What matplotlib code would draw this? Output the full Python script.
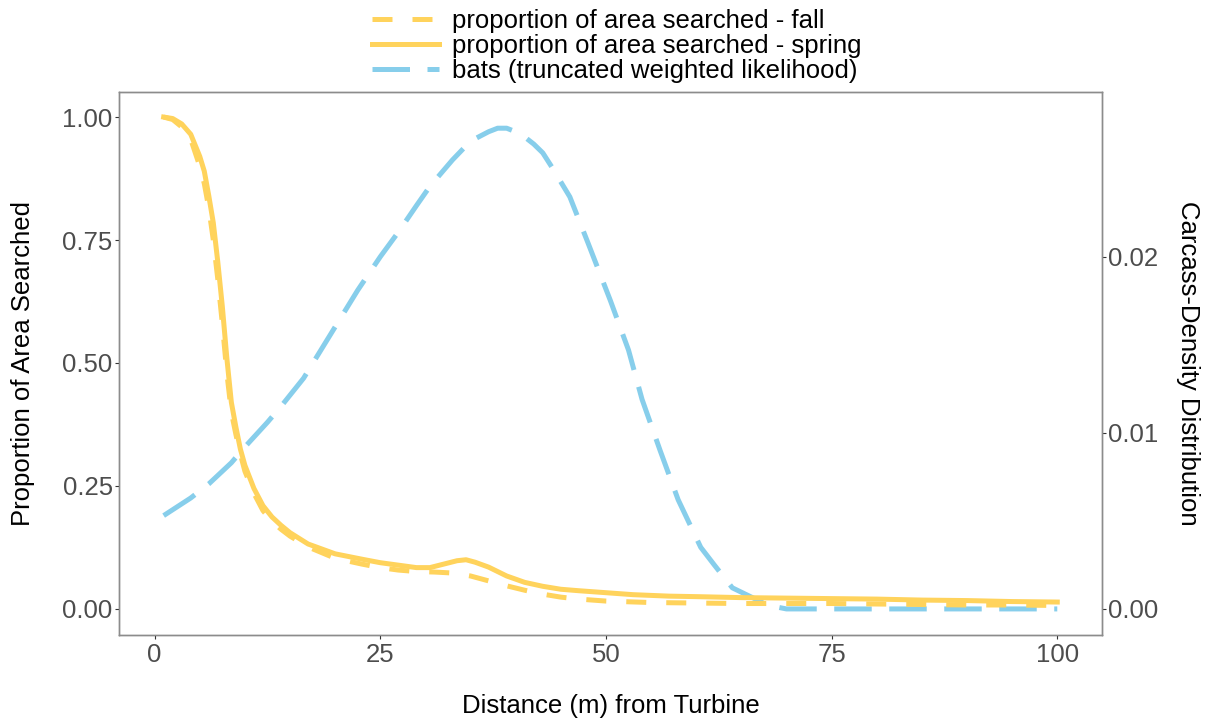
import numpy as np
import matplotlib
matplotlib.use("Agg")
import matplotlib.pyplot as plt

plt.rcParams['font.family'] = ['Liberation Sans', 'DejaVu Sans']

# distance (m) from turbine and proportion of area searched - spring
spring_x = [1, 2, 3, 4, 5, 5.5, 6, 6.5, 7, 7.5, 8, 8.5, 9, 9.5, 10, 11, 12, 13, 14, 15,
            17, 20, 23, 25, 27, 29, 30.5, 32, 33.5, 34.5, 35.5, 37, 39, 41, 43, 45, 47,
            50, 53, 57, 60, 65, 70, 75, 80, 85, 90, 95, 100]
spring_y = [1.0, 0.997, 0.986, 0.965, 0.92, 0.89, 0.84, 0.785, 0.705, 0.615, 0.51, 0.42,
            0.37, 0.325, 0.292, 0.245, 0.21, 0.187, 0.17, 0.155, 0.132, 0.112, 0.101,
            0.094, 0.089, 0.084, 0.084, 0.091, 0.098, 0.1, 0.095, 0.085, 0.067, 0.054,
            0.046, 0.04, 0.037, 0.033, 0.029, 0.026, 0.025, 0.023, 0.022, 0.021, 0.02,
            0.018, 0.017, 0.015, 0.014]

# proportion of area searched - fall
fall_x = [1, 2, 3, 4, 5, 5.5, 6, 6.5, 7, 7.5, 8, 8.5, 9, 9.5, 10, 11, 12, 13, 14, 15,
          17, 20, 23, 25, 27, 29, 31, 33, 35, 37, 39, 41, 43, 45, 47, 50, 55, 60, 65,
          70, 75, 80, 85, 90, 95, 100]
fall_y = [1.0, 0.995, 0.98, 0.955, 0.9, 0.865, 0.815, 0.75, 0.67, 0.58, 0.48, 0.4,
          0.355, 0.315, 0.28, 0.235, 0.2, 0.178, 0.162, 0.148, 0.126, 0.103, 0.091,
          0.084, 0.079, 0.076, 0.075, 0.073, 0.067, 0.057, 0.047, 0.038, 0.03, 0.024,
          0.02, 0.016, 0.013, 0.012, 0.011, 0.011, 0.011, 0.01, 0.009, 0.008, 0.008,
          0.007]

# bats carcass density (right axis)
bats_x = [1, 4, 6, 8.5, 10, 12.5, 14, 16.5, 19.5, 22.5, 25, 27, 29, 30.5, 32, 33, 34.5,
          35.5, 37, 38, 39, 40, 41, 42, 43, 44, 46, 48, 50.5, 52.5, 54, 56, 58, 60.5,
          62, 64, 66, 68, 70, 75, 80, 85, 90, 95, 100]
bats_y = [0.0053, 0.0063, 0.0071, 0.0083, 0.0092, 0.0106, 0.0115, 0.0131, 0.0156,
          0.0181, 0.02, 0.0214, 0.0229, 0.024, 0.0249, 0.0255, 0.0263, 0.0267, 0.0271,
          0.0273, 0.0273, 0.0271, 0.0268, 0.0264, 0.0259, 0.0251, 0.0234, 0.0208,
          0.0175, 0.0147, 0.0119, 0.009, 0.0062, 0.0035, 0.0025, 0.0012, 0.0007,
          0.0002, 0.0, 0.0, 0.0, 0.0, 0.0, 0.0, 0.0]

left_ticks = [0.0, 0.25, 0.5, 0.75, 1.0]
right_ticks = [0.0, 0.01, 0.02]
x_ticks = [0, 25, 50, 75, 100]

yellow = "#FFD35C"
blue = "#87CEEB"
grey_txt = "#4D4D4D"
scale = 35.8  # left units per right unit
fs = 18.5

fig = plt.figure(figsize=(12.14, 7.18), dpi=100)
ax = fig.add_axes([0.098, 0.1156, 0.8097, 0.7563])
ax2 = ax.twinx()

lw = 3.6
l_bats, = ax2.plot(bats_x, bats_y, color=blue, lw=lw, dashes=(7.5, 3.5), zorder=1)
l_fall, = ax.plot(fall_x, fall_y, color=yellow, lw=lw, dashes=(4, 4), zorder=2)
l_spring, = ax.plot(spring_x, spring_y, color=yellow, lw=lw, zorder=3)
ax.set_zorder(ax2.get_zorder() + 1)
ax.patch.set_visible(False)

ylo, yhi = -0.053, 1.051
ax.set_ylim(ylo, yhi)
ax2.set_ylim(ylo / scale, yhi / scale)
ax.set_xlim(-3.95, 104.95)

ax.set_yticks(left_ticks)
ax.set_yticklabels(["%.2f" % v for v in left_ticks])
ax2.set_yticks(right_ticks)
ax2.set_yticklabels(["%.2f" % v for v in right_ticks])
ax.set_xticks(x_ticks)

for a in (ax, ax2):
    a.tick_params(labelsize=fs, labelcolor=grey_txt, color="#333333", length=3,
                  width=0.8, pad=1.5)
    for s in a.spines.values():
        s.set_color("#8C8C8C")
        s.set_linewidth(1.0)
ax.tick_params(axis="x", pad=3)

ax.set_xlabel("Distance (m) from Turbine", fontsize=fs, labelpad=19)
ax.set_ylabel("Proportion of Area Searched", fontsize=fs, labelpad=20)
ax2.set_ylabel("Carcass-Density Distribution", fontsize=fs, rotation=270, labelpad=30)

fig.legend([l_fall, l_spring, l_bats],
           ["proportion of area searched - fall",
            "proportion of area searched - spring",
            "bats (truncated weighted likelihood)"],
           loc="upper center", bbox_to_anchor=(0.508, 1.02), frameon=False,
           fontsize=fs, handlelength=2.6, handletextpad=0.5, labelspacing=0.05)

fig.savefig("out.png", dpi=100)
